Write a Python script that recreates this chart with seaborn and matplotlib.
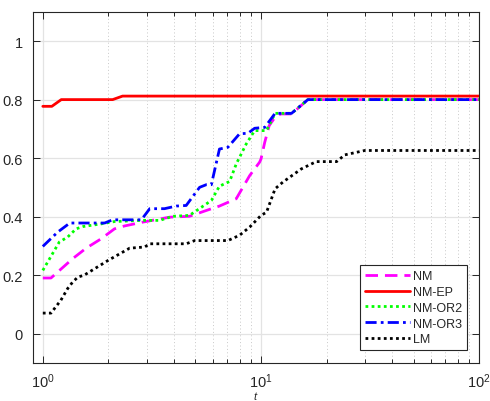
import matplotlib
matplotlib.use("Agg")
import matplotlib.pyplot as plt
import numpy as np
import pandas as pd
import seaborn as sns
from matplotlib.ticker import LogLocator, FixedLocator

# performance profile data
t_nm = [1, 1.09, 1.37, 1.58, 1.85, 2.13, 2.37, 2.87, 3.81, 4.7, 5.62, 6.45, 7.70,
        8.87, 9.85, 10.0, 10.4, 10.9, 11.6, 12.3, 13.8, 16.4, 100]
y_nm = [0.19, 0.19, 0.256, 0.292, 0.324, 0.358, 0.368, 0.381, 0.398, 0.401, 0.421,
        0.436, 0.461, 0.54, 0.586, 0.597, 0.654, 0.711, 0.74, 0.751, 0.751, 0.80, 0.80]

t_ep = [1, 1.10, 1.215, 2.09, 2.32, 100]
y_ep = [0.777, 0.777, 0.80, 0.80, 0.812, 0.812]

t_or2 = [1, 1.19, 1.30, 1.42, 1.53, 1.85, 2.13, 2.83, 3.43, 3.95, 4.7, 5.92, 6.45,
         7.18, 7.70, 8.55, 9.35, 10.6, 11.6, 13.8, 16.4, 100]
y_or2 = [0.216, 0.313, 0.33, 0.358, 0.366, 0.375, 0.383, 0.387, 0.387, 0.401, 0.404,
         0.455, 0.504, 0.52, 0.58, 0.648, 0.694, 0.694, 0.753, 0.753, 0.80, 0.80]

t_or3 = [1, 1.17, 1.33, 1.92, 2.09, 2.83, 3.09, 3.61, 4.09, 4.54, 5.23, 5.61, 5.92,
         6.45, 7.05, 7.97, 8.72, 9.35, 10.4, 11.6, 13.8, 16.4, 100]
y_or3 = [0.298, 0.347, 0.378, 0.378, 0.389, 0.389, 0.427, 0.427, 0.436, 0.438, 0.50,
         0.509, 0.509, 0.631, 0.637, 0.683, 0.685, 0.702, 0.705, 0.753, 0.753, 0.80, 0.80]

t_lm = [1, 1.09, 1.21, 1.30, 1.37, 1.447, 1.55, 1.99, 2.5, 2.93, 3.09, 4.54, 4.97,
        7.05, 7.97, 8.87, 10.0, 10.6, 11.6, 12.6, 15.3, 17.9, 22.2, 24.2, 29.9, 100]
y_lm = [0.07, 0.07, 0.114, 0.154, 0.176, 0.193, 0.20, 0.25, 0.292, 0.296, 0.307,
        0.307, 0.318, 0.318, 0.336, 0.364, 0.404, 0.415, 0.495, 0.518, 0.563, 0.588,
        0.588, 0.611, 0.626, 0.626]

series = [
    ("NM", t_nm, y_nm, "#ff00ff", (0, (4.5, 2.5))),
    ("NM-EP", t_ep, y_ep, "#ff0000", "-"),
    ("NM-OR2", t_or2, y_or2, "#00ff00", (0, (1, 1.2))),
    ("NM-OR3", t_or3, y_or3, "#0000ff", (0, (4, 1.5, 1, 1.5))),
    ("LM", t_lm, y_lm, "#000000", (0, (1, 1.2))),
]

sns.set_theme(style="ticks")
plt.rcParams["font.family"] = ["Liberation Sans", "DejaVu Sans"]
plt.rcParams["mathtext.fontset"] = "custom"
plt.rcParams["mathtext.rm"] = "Liberation Sans"
plt.rcParams["mathtext.it"] = "Liberation Sans:italic"

fig = plt.figure(figsize=(4.9, 4.02), dpi=100)
ax = fig.add_axes([0.067, 0.095, 0.911, 0.873])

for name, t, y, color, ls in series:
    df = pd.DataFrame({"t": t, "y": y})
    sns.lineplot(data=df, x="t", y="y", ax=ax, color=color, linestyle=ls,
                 linewidth=2.0, label=name, estimator=None, sort=False)

ax.set_xscale("log")
ax.set_xlim(0.9, 100)
ax.set_ylim(-0.1, 1.1)
ax.set_yticks([0, 0.2, 0.4, 0.6, 0.8, 1])
ax.set_yticklabels(["0", "0.2", "0.4", "0.6", "0.8", "1"])
ax.xaxis.set_major_locator(FixedLocator([1, 10, 100]))
ax.set_xticklabels([r"$10^0$", r"$10^1$", r"$10^2$"])
ax.xaxis.set_minor_locator(LogLocator(base=10, subs=np.arange(2, 10), numticks=20))

ax.grid(which="major", color="#e3e3e3", linewidth=0.9, linestyle="-")
ax.grid(which="minor", axis="x", color="#c8c8c8", linewidth=0.7, linestyle=(0, (1, 2.5)))
ax.set_axisbelow(True)

for s in ax.spines.values():
    s.set_color("#262626")
    s.set_linewidth(0.8)
    s.set_visible(True)
ax.tick_params(which="both", direction="in", top=True, right=True, color="#262626",
               labelcolor="#262626", labelsize=10.5, width=0.7)
ax.tick_params(which="major", length=5, pad=7)
ax.tick_params(axis="x", which="major", pad=6)
ax.tick_params(which="minor", length=3)

ax.set_xlabel("$t$", fontsize=8, color="#262626", va="top")
ax.xaxis.set_label_coords(0.5, -0.074)
ax.set_ylabel("")

leg = ax.legend(loc="lower right", fancybox=False, framealpha=1, edgecolor="#262626",
                fontsize=9, handlelength=3.6, labelspacing=0.3, handletextpad=0.2,
                borderpad=0.4, borderaxespad=1.0)
leg.get_frame().set_linewidth(0.8)

fig.savefig("out.png", dpi=100)
